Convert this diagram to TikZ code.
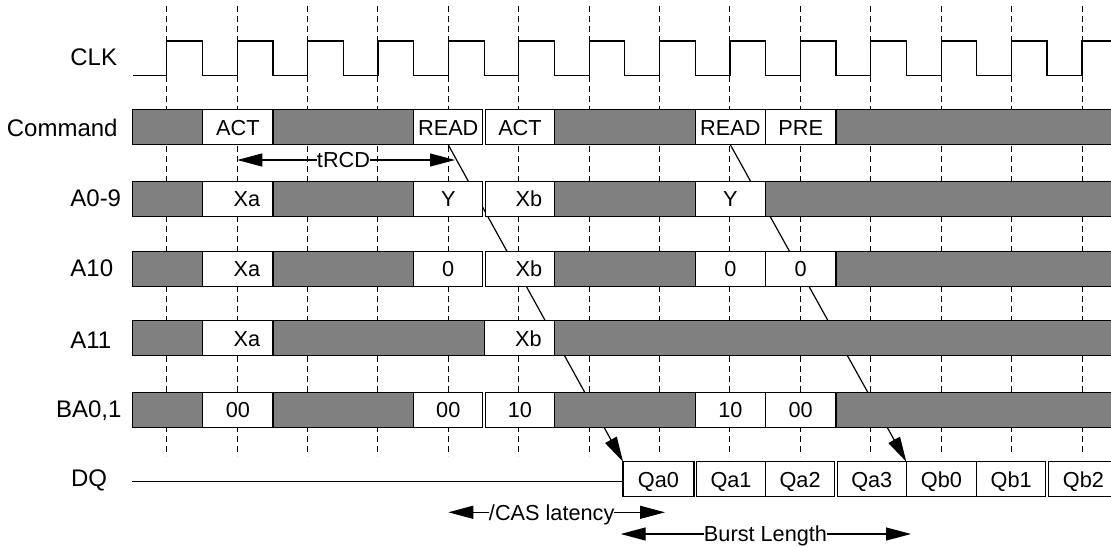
\documentclass[tikz,border=0pt]{standalone}
\usepackage{fontspec}
\setmainfont{Liberation Sans}
\usetikzlibrary{arrows.meta}
\definecolor{bargray}{RGB}{128,128,128}
\pgfdeclarelayer{bg}
\pgfsetlayers{bg,main}
\tikzset{
  seg/.style={draw=black, line width=0.6pt, inner sep=0pt, outer sep=0pt, minimum height=17.5pt,
    font=\fontsize{10.85}{12}\selectfont, text height=7.8pt, text depth=0pt},
  gbox/.style={seg, fill=bargray},
  wbox/.style={seg, fill=white},
  rowlabel/.style={anchor=base west, inner sep=0pt, font=\fontsize{12}{14}\selectfont},
  tick/.style={dash pattern=on 2.8pt off 2.2pt, line width=0.5pt},
  wire/.style={line width=0.6pt},
  arr/.style={line width=0.6pt, -{Triangle[length=12.5pt,width=6.5pt]}},
  alabel/.style={inner sep=0pt, outer sep=0pt, font=\fontsize{10.85}{12}\selectfont, text height=7.8pt, text depth=0pt},
}
\newcommand\tseg[6]{\node[#5, minimum width={(#3-#2)*0.5pt}] (#1) at ({(#2+#3)/2},#4) {#6};}
\begin{document}
\begin{tikzpicture}[x=0.5pt,y=-0.5pt]
\useasboundingbox (0,0) rectangle (1111,546);

% row labels
\node[rowlabel] (lclk) at (70,65) {CLK};
\node[rowlabel] (lcmd) at (6.5,136.5) {Command};
\node[rowlabel] (la09) at (70,206.5) {A0-9};
\node[rowlabel] (la10) at (70,276) {A10};
\node[rowlabel] (la11) at (70,348) {A11};
\node[rowlabel] (lba) at (55.7,417) {BA0,1};
\node[rowlabel] (ldq) at (70.7,486) {DQ};

% CLK
\draw[wire] (133.3,75.7)
  \foreach \k in {0,...,12} { -- ({166.7+70.41*\k},75.7) -- ({166.7+70.41*\k},41)
     -- ({132.3+70.36*(\k+1)},41) -- ({132.3+70.36*(\k+1)},75.7) }
  -- (1082,75.7) -- (1082,41) -- (1125,41);

% Command
\tseg{c0}{132.3}{202.7}{127.3}{gbox}{}
\tseg{cact1}{202.7}{273.0}{127.3}{wbox}{ACT}
\tseg{c2}{273.0}{413.7}{127.3}{gbox}{}
\tseg{cread1}{413.7}{482.8}{127.3}{wbox}{READ}
\tseg{cact2}{485.4}{554.5}{127.3}{wbox}{ACT}
\tseg{c5}{554.5}{695.2}{127.3}{gbox}{}
\tseg{cread2}{695.2}{765.5}{127.3}{wbox}{READ}
\tseg{cpre}{765.5}{835.9}{127.3}{wbox}{PRE}
\tseg{c8}{835.9}{1125}{127.3}{gbox}{}

% A0-9
\tseg{a0}{132.3}{202.7}{198.9}{gbox}{}
\tseg{axa}{202.7}{273.0}{198.9}{wbox}{\hspace{9pt}Xa}
\tseg{a2}{273.0}{413.7}{198.9}{gbox}{}
\tseg{ay1}{413.7}{482.8}{198.9}{wbox}{Y}
\tseg{axb}{485.4}{554.5}{198.9}{wbox}{\hspace{9pt}Xb}
\tseg{a5}{554.5}{695.2}{198.9}{gbox}{}
\tseg{ay2}{695.2}{765.5}{198.9}{wbox}{Y}
\tseg{a7}{765.5}{1125}{198.9}{gbox}{}

% A10
\tseg{b0}{132.3}{202.7}{268.9}{gbox}{}
\tseg{bxa}{202.7}{273.0}{268.9}{wbox}{\hspace{9pt}Xa}
\tseg{b2}{273.0}{413.7}{268.9}{gbox}{}
\tseg{bz1}{413.7}{482.8}{268.9}{wbox}{0}
\tseg{bxb}{485.4}{554.5}{268.9}{wbox}{\hspace{9pt}Xb}
\tseg{b5}{554.5}{695.2}{268.9}{gbox}{}
\tseg{bz2}{695.2}{765.5}{268.9}{wbox}{0}
\tseg{bz3}{765.5}{835.9}{268.9}{wbox}{0}
\tseg{b8}{835.9}{1125}{268.9}{gbox}{}

% A11
\tseg{d0}{132.3}{202.7}{338.2}{gbox}{}
\tseg{dxa}{202.7}{273.0}{338.2}{wbox}{\hspace{9pt}Xa}
\tseg{d2}{273.0}{484.1}{338.2}{gbox}{}
\tseg{dxb}{484.1}{554.5}{338.2}{wbox}{\hspace{9pt}Xb}
\tseg{d4}{554.5}{1125}{338.2}{gbox}{}

% BA0,1
\tseg{e0}{132.3}{202.7}{409.7}{gbox}{}
\tseg{e00a}{202.7}{273.0}{409.7}{wbox}{00}
\tseg{e2}{273.0}{413.7}{409.7}{gbox}{}
\tseg{e00b}{413.7}{482.8}{409.7}{wbox}{00}
\tseg{e10a}{485.4}{554.5}{409.7}{wbox}{10}
\tseg{e5}{554.5}{695.2}{409.7}{gbox}{}
\tseg{e10b}{695.2}{765.5}{409.7}{wbox}{10}
\tseg{e00c}{765.5}{835.9}{409.7}{wbox}{00}
\tseg{e8}{835.9}{1125}{409.7}{gbox}{}

% DQ
\tseg{qa0}{623}{693.9}{479.2}{wbox}{Qa0}
\tseg{qa1}{696.5}{765.5}{479.2}{wbox}{Qa1}
\tseg{qa2}{765.5}{834.6}{479.2}{wbox}{Qa2}
\tseg{qa3}{837.2}{906.3}{479.2}{wbox}{Qa3}
\tseg{qb0}{906.3}{976.6}{479.2}{wbox}{Qb0}
\tseg{qb1}{976.6}{1045.7}{479.2}{wbox}{Qb1}
\tseg{qb2}{1048.3}{1118.6}{479.2}{wbox}{Qb2}
\coordinate (dqL) at (132.3,481.7);
\draw[wire] (dqL) -- (dqL -| qa0.west);

% timing arrows
\node[alabel] (trcd) at (343.5,160) {tRCD};
\coordinate (trcdL) at (237.3,160);
\coordinate (trcdR) at (455,160);
\draw[arr] (trcd.west) -- (trcdL);
\draw[arr] (trcd.east) -- (trcdR);

\node[alabel] (cas) at (551.7,512.3) {/CAS latency};
\coordinate (casL) at (448.3,512.3);
\coordinate (casR) at (665,512.3);
\draw[arr] (cas.west) -- (casL);
\draw[arr] (cas.east) -- (casR);

\node[alabel] (burst) at (765.5,534) {Burst Length};
\coordinate (burstL) at (620.7,534);
\coordinate (burstR) at (911,534);
\draw[arr] (burst.west) -- (burstL);
\draw[arr] (burst.east) -- (burstR);

\begin{pgfonlayer}{bg}
  \foreach \k in {0,...,13} \draw[tick] ({166.7+70.41*\k},6) -- ({166.7+70.41*\k},456);
  \draw[arr] (cread1.south) -- (qa0.north west);
  \draw[arr] (cread2.south) -- (qb0.north west);
\end{pgfonlayer}
\end{tikzpicture}
\end{document}
